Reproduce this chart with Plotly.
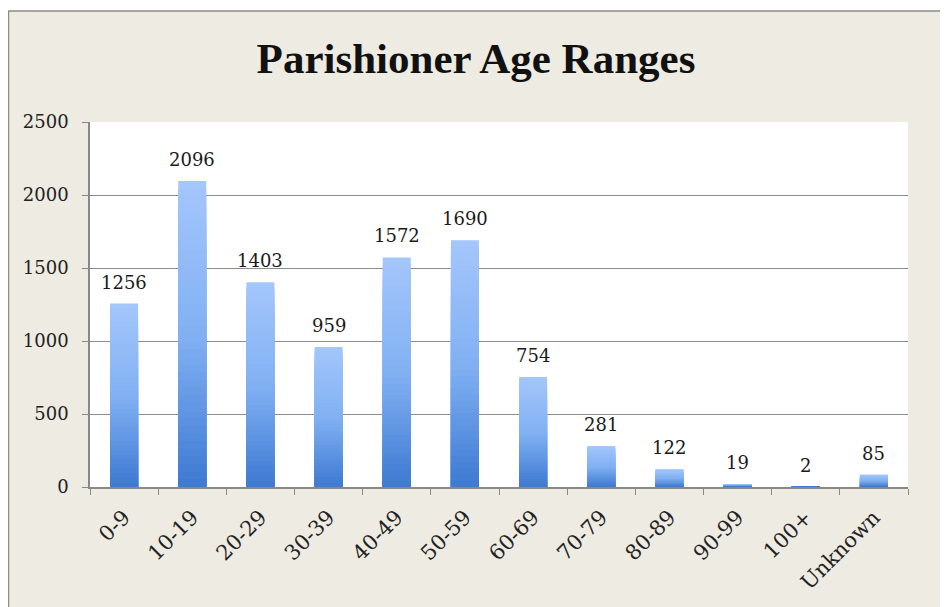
import plotly.graph_objects as go

categories = ["0-9", "10-19", "20-29", "30-39", "40-49", "50-59", "60-69",
              "70-79", "80-89", "90-99", "100+", "Unknown"]
counts = [1256, 2096, 1403, 959, 1572, 1690, 754, 281, 122, 19, 2, 85]
y_ticks = [0, 500, 1000, 1500, 2000, 2500]

TITLE = "Parishioner Age Ranges"
TITLE_FONT = "Liberation Serif"
FONT = "DejaVu Serif"

# page body has an 8px margin; the figure is sized/positioned to compensate
W, H = 940, 599
L, R, T, B = 82, 40, 114, 120
PW, PH = W - L - R, H - T - B

stops = [(0.0, (59, 120, 209)), (0.5, (128, 176, 242)), (1.0, (163, 198, 251))]


def grad_color(f):
    for (f0, c0), (f1, c1) in zip(stops[:-1], stops[1:]):
        if f0 <= f <= f1:
            t = (f - f0) / (f1 - f0)
            c = [round(a + (b - a) * t) for a, b in zip(c0, c1)]
            return f"rgb({c[0]},{c[1]},{c[2]})"
    return "rgb(163,198,251)"


fig = go.Figure()
N = 40
for k in range(N):
    frac = 1 - k / N
    fig.add_trace(go.Bar(
        x=categories,
        y=[v * frac for v in counts],
        width=0.41,
        marker=dict(color=grad_color(frac), line=dict(width=0)),
        hoverinfo="skip",
        showlegend=False,
    ))

for c, v in zip(categories, counts):
    fig.add_annotation(x=c, y=v, text=str(v), showarrow=False,
                       yanchor="bottom", yshift=9,
                       font=dict(family=FONT, size=18, color="#1a1a1a"))

fig.update_layout(
    width=W, height=H,
    barmode="overlay",
    paper_bgcolor="white",
    plot_bgcolor="white",
    margin=dict(l=L, r=R, t=T, b=B),
    title=dict(text=f"<b>{TITLE}</b>", x=468 / W, xanchor="center",
               y=1 - 50 / H, yref="container", yanchor="middle",
               font=dict(family=TITLE_FONT, size=43, color="#111")),
    font=dict(family=FONT, size=18, color="#222"),
    shapes=[
        dict(type="rect", xref="paper", yref="paper", layer="below",
             x0=(0.5 - L) / PW, x1=(934 - L) / PW,
             y0=(PH - (H + 40 - T)) / PH, y1=(PH + T - 3) / PH,
             fillcolor="#edebe2", line=dict(color="#8c8c8c", width=1.5)),
        dict(type="rect", xref="paper", yref="paper", layer="below",
             x0=0, x1=1, y0=0, y1=1, fillcolor="white", line=dict(width=0)),
    ],
)

fig.update_xaxes(
    type="category",
    tickson="boundaries",
    ticks="outside", ticklen=6, tickcolor="#888",
    showline=True, linecolor="#888", linewidth=1.5,
    showgrid=False,
    tickangle=-45,
    ticklabelstandoff=8,
    tickfont=dict(family=FONT, size=21, color="#222"),
)
fig.update_yaxes(
    range=[0, 2500],
    tickvals=y_ticks,
    ticks="outside", ticklen=6, tickcolor="#888",
    showline=True, linecolor="#888", linewidth=1.5,
    showgrid=True, gridcolor="#8c8c8c", gridwidth=1.2,
    zeroline=False,
    ticklabelstandoff=10,
    tickfont=dict(family=FONT, size=18, color="#222"),
)

fig.write_html("out.html")
